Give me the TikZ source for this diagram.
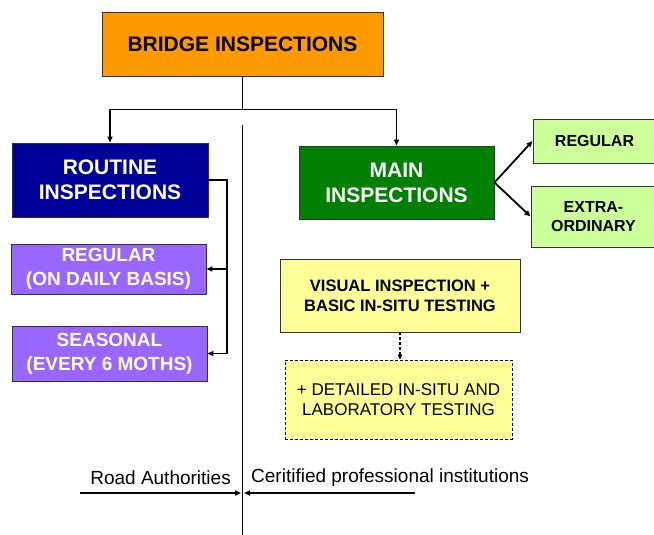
\documentclass[tikz,border=0pt]{standalone}
\usepackage{fontspec}
\setmainfont{Liberation Sans}
\usetikzlibrary{arrows.meta}
\definecolor{cOrange}{HTML}{FF9900}
\definecolor{cBlue}{HTML}{000099}
\definecolor{cGreen}{HTML}{008000}
\definecolor{cLight}{HTML}{CCFF99}
\definecolor{cPurple}{HTML}{9966FF}
\definecolor{cYellow}{HTML}{FFFF99}
\definecolor{cEdge}{HTML}{333333}
\tikzset{
  box/.style={draw=cEdge, line width=0.9pt, inner sep=0pt, align=center, font=\bfseries},
  conn/.style={line width=1.8pt, black},
  arr/.style={conn, -{Triangle[length=6pt,width=5pt]}},
}
\begin{document}
\begin{tikzpicture}[x=1pt,y=-1pt]
\useasboundingbox (0,0) rectangle (654,535);
\clip (0,0) rectangle (654,535);
\fill[white] (0,0) rectangle (654,535);
% boxes
\node[box, fill=cOrange, minimum width=281pt, minimum height=64pt, font=\bfseries\fontsize{21}{25}\selectfont] (bridge) at (242.5,44) {BRIDGE INSPECTIONS};
\node[box, fill=cBlue, text=white, minimum width=196pt, minimum height=74pt, font=\bfseries\fontsize{21}{25}\selectfont] (routine) at (110,180) {ROUTINE\\INSPECTIONS};
\node[box, fill=cGreen, text=white, minimum width=195pt, minimum height=73pt, font=\bfseries\fontsize{21}{25}\selectfont] (main) at (396.5,182.5) {MAIN\\INSPECTIONS};
\node[box, fill=cLight, minimum width=123pt, minimum height=44pt, font=\bfseries\fontsize{16}{19}\selectfont] (greg) at (594.5,141) {REGULAR};
\node[box, fill=cLight, minimum width=125pt, minimum height=61pt, font=\bfseries\fontsize{16}{19}\selectfont] (extra) at (593.5,216.5) {EXTRA-\\ORDINARY};
\node[box, fill=cPurple, text=white, minimum width=195pt, minimum height=50pt, font=\bfseries\fontsize{19}{24}\selectfont] (preg) at (108.5,269) {REGULAR\\(ON DAILY BASIS)};
\node[box, fill=cPurple, text=white, minimum width=195pt, minimum height=55pt, font=\bfseries\fontsize{19}{24}\selectfont] (seas) at (109.5,353.5) {SEASONAL\\(EVERY 6 MOTHS)};
\node[box, fill=cYellow, minimum width=240pt, minimum height=73pt, font=\bfseries\fontsize{16.5}{20}\selectfont] (visual) at (400,295.5) {VISUAL INSPECTION +\\BASIC IN-SITU TESTING};
\node[box, draw=black, dashed, dash pattern=on 3pt off 2pt, fill=cYellow, minimum width=227pt, minimum height=79pt, font=\fontsize{17}{20}\selectfont] (detail) at (398.5,399.5) {+ DETAILED IN-SITU AND\\LABORATORY TESTING};
% labels
\node[anchor=east, inner sep=0pt, font=\fontsize{19}{22}\selectfont] (road) at (231,478) {Road Authorities};
\node[anchor=west, inner sep=0pt, font=\fontsize{19}{22}\selectfont] (cert) at (251,478) {Ceritified professional institutions};
% connectors
\draw[conn] (bridge.south) -- ++(0,33) coordinate (j);
\draw[arr] (j) -| (routine.north);
\draw[arr] (j) -| (main.north);
\coordinate (brk) at (227,180);
\draw[conn] (routine.east) -- (brk) -- (brk |- seas.east);
\draw[arr] (brk |- preg.east) -- (preg.east);
\draw[arr] (brk |- seas.east) -- (seas.east);
\draw[arr] (main.east) -- (greg.west);
\draw[arr] (main.east) -- (extra.west);
\draw[line width=1.2pt, dashed, dash pattern=on 3pt off 2pt, -{Triangle[length=5pt,width=4.5pt]}] (visual.south) -- (visual.south |- detail.north);
% divider
\coordinate (dtop) at (242.5,125);
\coordinate (dbot) at (242.5,535);
\draw[line width=0.8pt] (dtop) -- (dbot);
\coordinate (la) at (80,493);
\coordinate (lb) at (241,493);
\coordinate (ra) at (415,493);
\coordinate (rb) at (244,493);
\draw[arr] (la) -- (lb);
\draw[arr] (ra) -- (rb);
\end{tikzpicture}
\end{document}
